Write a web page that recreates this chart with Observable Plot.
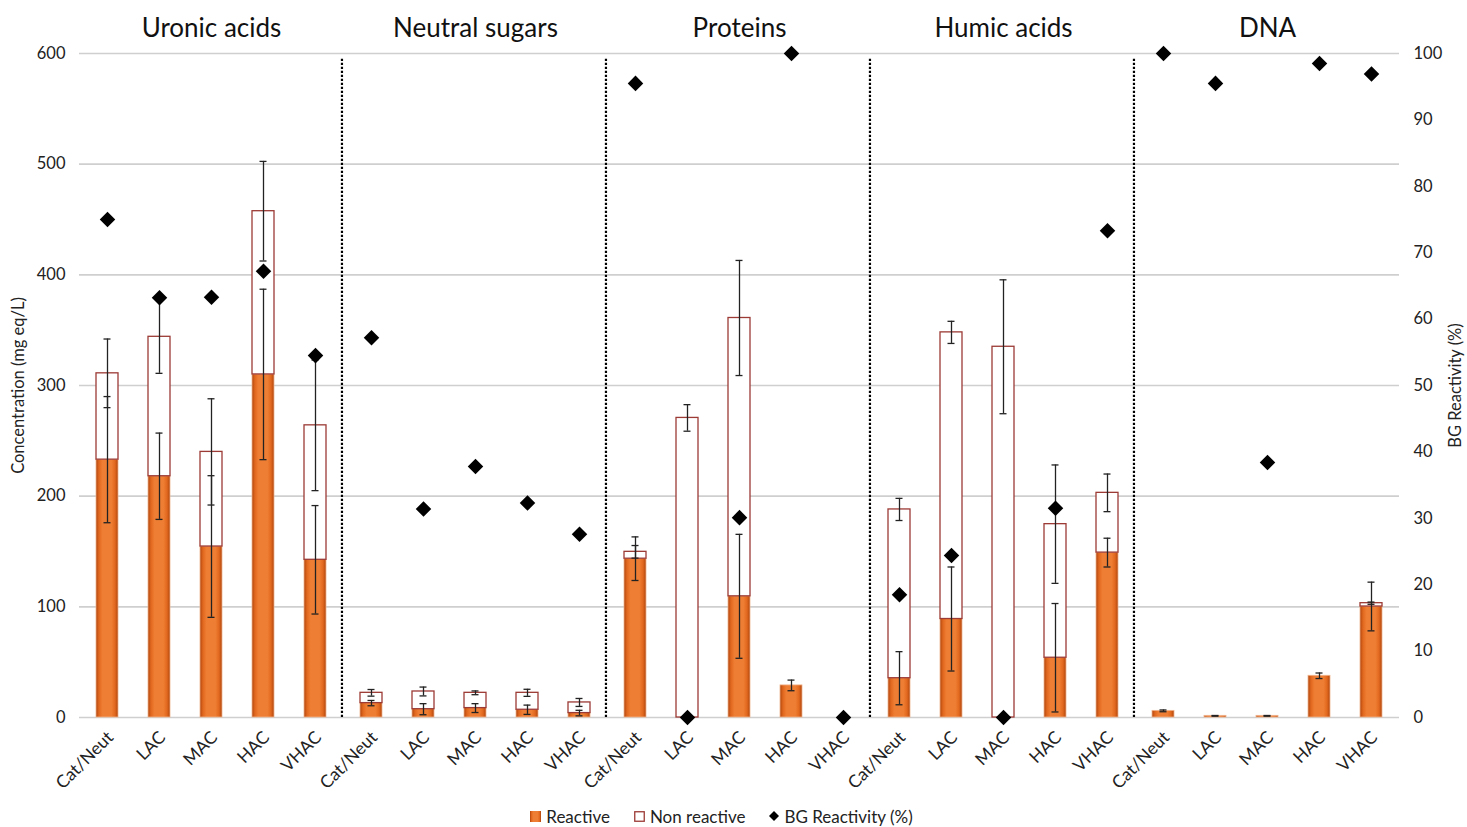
<!DOCTYPE html>
<html>
<head>
<meta charset="utf-8">
<script src="https://cdn.jsdelivr.net/npm/d3@7"></script>
<script src="https://cdn.jsdelivr.net/npm/@observablehq/plot@0.6"></script>
<style>
  html, body { margin: 0; padding: 0; background: #fff; }
  body { width: 1467px; height: 827px; overflow: hidden; font-family: Lato, "Open Sans", sans-serif; }
  #chart svg { display: block; }
  .legend { display: flex; justify-content: center; align-items: center; gap: 24px; font-size: 17px; color: #222; height: 22px; padding-right: 24px; }
  .legend span { display: inline-flex; align-items: center; gap: 5px; }
</style>
</head>
<body>
<svg width="0" height="0" style="position:absolute">
  <defs>
    <linearGradient id="orangeGrad" x1="0" y1="0" x2="1" y2="0">
      <stop offset="0%" stop-color="#b0440c"/>
      <stop offset="14%" stop-color="#e2691f"/>
      <stop offset="30%" stop-color="#ee7e33"/>
      <stop offset="70%" stop-color="#ee7e33"/>
      <stop offset="86%" stop-color="#e2691f"/>
      <stop offset="100%" stop-color="#b0440c"/>
    </linearGradient>
  </defs>
</svg>
<div id="chart"></div>
<div class="legend">
  <span><svg width="11" height="11"><rect x="0" y="0" width="11" height="11" fill="url(#orangeGrad)"/></svg>Reactive</span>
  <span><svg width="11" height="11"><rect x="0.75" y="0.75" width="9.5" height="9.5" fill="#fff" stroke="#9c3a35" stroke-width="1.3"/></svg>Non reactive</span>
  <span><svg width="10" height="10"><path d="M5,0L10,5L5,10L0,5Z" fill="#000"/></svg>BG Reactivity (%)</span>
</div>
<script>
// ---- data ----
const groups = ["Uronic acids", "Neutral sugars", "Proteins", "Humic acids", "DNA"];
const fractions = ["Cat/Neut", "LAC", "MAC", "HAC", "VHAC"];
// reactive concentration (mg eq/L)
const reactive = [
  [233, 218, 154.5, 310, 142.5],
  [13, 7.5, 8.5, 7, 4],
  [143.5, 0, 109.5, 29, 0],
  [35.5, 89, 0, 54, 149],
  [6, 1.5, 1.5, 37.7, 100.3]
];
// total concentration (reactive + non reactive)
const total = [
  [311, 344, 240, 457.5, 264],
  [22.3, 23.5, 22.3, 22.3, 13.6],
  [149.7, 270.7, 361, 29, 0],
  [188, 348, 335, 174.7, 203],
  [6, 1.5, 1.5, 37.7, 103.3]
];
const reactiveErr = [
  [57, 39, 64, 77, 49],
  [2.4, 5, 4, 4.2, 2.5],
  [19.7, 0, 56, 4.8, 0],
  [24, 47, 0, 49, 13],
  [0.8, 0.3, 0.3, 2.5, 22]
];
const totalErr = [
  [31, 33, 48, 45, 59],
  [3, 4, 1.7, 3.2, 3.6],
  [5.7, 12, 52, 0, 0],
  [10, 10, 60.5, 53.5, 17],
  [0, 0, 0, 0, 1]
];
// BG reactivity (%)
const bgReactivity = [
  [75, 63.2, 63.3, 67.2, 54.5],
  [57.2, 31.4, 37.8, 32.3, 27.6],
  [95.5, 0, 30.1, 100, 0],
  [18.5, 24.4, 0, 31.5, 73.3],
  [100, 95.5, 38.4, 98.5, 96.9]
];
const concTicks = [0, 100, 200, 300, 400, 500, 600];
const pctTicks = [0, 10, 20, 30, 40, 50, 60, 70, 80, 90, 100];
const pctToConc = 600 / 100;

// ---- tables ----
const rows = [];
groups.forEach((g, i) => fractions.forEach((f, j) => rows.push({
  group: g, fraction: f,
  reactive: reactive[i][j], total: total[i][j],
  rErr: reactiveErr[i][j], tErr: totalErr[i][j],
  bg: bgReactivity[i][j]
})));
const errs = [];
rows.forEach(r => {
  if (r.rErr > 0) errs.push({group: r.group, fraction: r.fraction, lo: r.reactive - r.rErr, hi: r.reactive + r.rErr});
  if (r.tErr > 0 && r.total > r.reactive) errs.push({group: r.group, fraction: r.fraction, lo: r.total - r.tErr, hi: r.total + r.tErr});
});
const separators = groups.slice(0, groups.length - 1);

const W = 1467, H = 805, mL = 77, mR = 67, mT = 53, mB = 88;
const step = (W - mL - mR) / groups.length / fractions.length;

const chart = Plot.plot({
  width: W, height: H,
  marginLeft: mL, marginRight: mR, marginTop: mT, marginBottom: mB,
  style: {fontFamily: "Lato, 'Open Sans', sans-serif", fontSize: "17px", color: "#222", background: "#fff"},
  fx: {domain: groups, padding: 0},
  x: {domain: fractions, paddingInner: 0.58, paddingOuter: 0.29},
  y: {domain: [0, 600]},
  marks: [
    Plot.gridY(concTicks, {stroke: "#cfcfcf", strokeOpacity: 1, strokeWidth: 1.6}),
    Plot.axisFx({anchor: "top", tickSize: 0, tickPadding: 17, fontSize: 26, label: null, fill: "#111"}),
    Plot.axisX({anchor: "bottom", tickRotate: -45, tickSize: 0, tickPadding: 17, dx: 3, fontSize: 17.5, label: null}),
    Plot.axisY(concTicks, {anchor: "left", tickSize: 0, tickPadding: 14, fontSize: 16.5,
      label: "Concentration (mg eq/L)", labelAnchor: "center", labelArrow: "none", labelOffset: 67}),
    Plot.axisY(pctTicks.map(p => p * pctToConc), {anchor: "right", tickSize: 0, tickPadding: 14, fontSize: 16.5,
      tickFormat: v => Math.round(v / pctToConc),
      label: "BG Reactivity (%)", labelAnchor: "center", labelArrow: "none", labelOffset: 61}),
    Plot.barY(rows.filter(d => d.reactive > 0), {fx: "group", x: "fraction", y1: 0, y2: "reactive",
      fill: "url(#orangeGrad)", stroke: "#f0b48e", strokeWidth: 0.8}),
    Plot.barY(rows.filter(d => d.total > d.reactive), {fx: "group", x: "fraction", y1: "reactive", y2: "total",
      fill: "#fff", stroke: "#9c3a35", strokeWidth: 1.3}),
    Plot.ruleX(errs, {fx: "group", x: "fraction", y1: "lo", y2: "hi", stroke: "#222", strokeWidth: 1.3}),
    Plot.tickY(errs, {fx: "group", x: "fraction", y: "lo", stroke: "#222", strokeWidth: 1.3, insetLeft: 7.5, insetRight: 7.5}),
    Plot.tickY(errs, {fx: "group", x: "fraction", y: "hi", stroke: "#222", strokeWidth: 1.3, insetLeft: 7.5, insetRight: 7.5}),
    Plot.dot(rows, {fx: "group", x: "fraction", y: d => d.bg * pctToConc, symbol: "diamond2", r: 7, fill: "#000", stroke: "none"}),
    Plot.ruleX(separators, {fx: d => d, x: () => "VHAC", dx: step / 2, y1: 0, y2: 600, insetBottom: -4,
      stroke: "#000", strokeWidth: 2.2, strokeDasharray: "2.2,1.8"})
  ]
});
document.getElementById("chart").appendChild(chart);
</script>
</body>
</html>
